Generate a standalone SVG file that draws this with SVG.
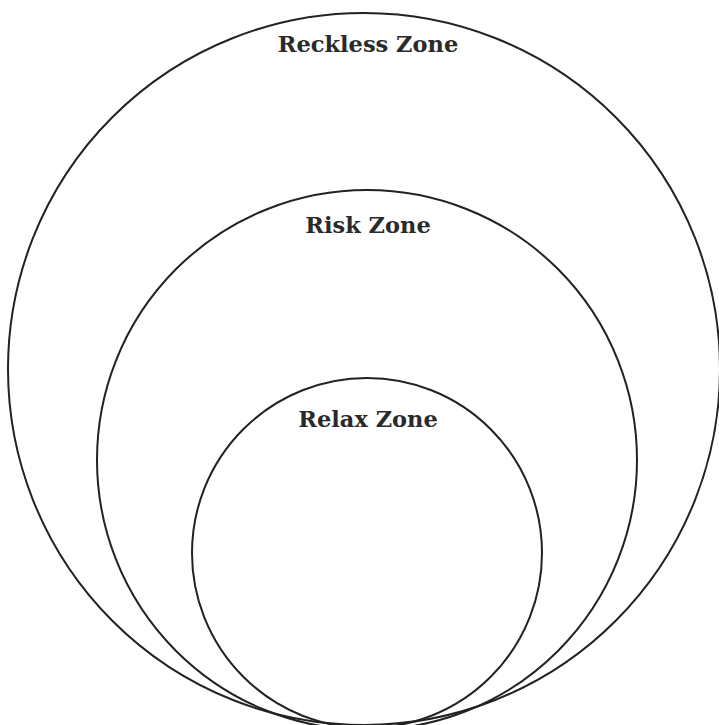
<svg xmlns="http://www.w3.org/2000/svg" width="719" height="725" viewBox="0 0 719 725">
<style>
.ring{fill:none;stroke:#222;stroke-width:2}
.lbl{font-family:"DejaVu Serif","Liberation Serif",serif;font-weight:bold;font-size:22.5px;fill:#2a2a2a;text-anchor:middle}
</style>
<rect width="719" height="725" fill="#fff"/>
<g id="reckless">
<circle class="ring" cx="364" cy="369" r="356"/>
<text class="lbl" x="368" y="52">Reckless Zone</text>
</g>
<g id="risk">
<circle class="ring" cx="367" cy="460" r="270"/>
<text class="lbl" x="368" y="233">Risk Zone</text>
</g>
<g id="relax">
<circle class="ring" cx="367" cy="553" r="175"/>
<text class="lbl" x="368" y="427">Relax Zone</text>
</g>
<g id="connectors"></g>
</svg>
